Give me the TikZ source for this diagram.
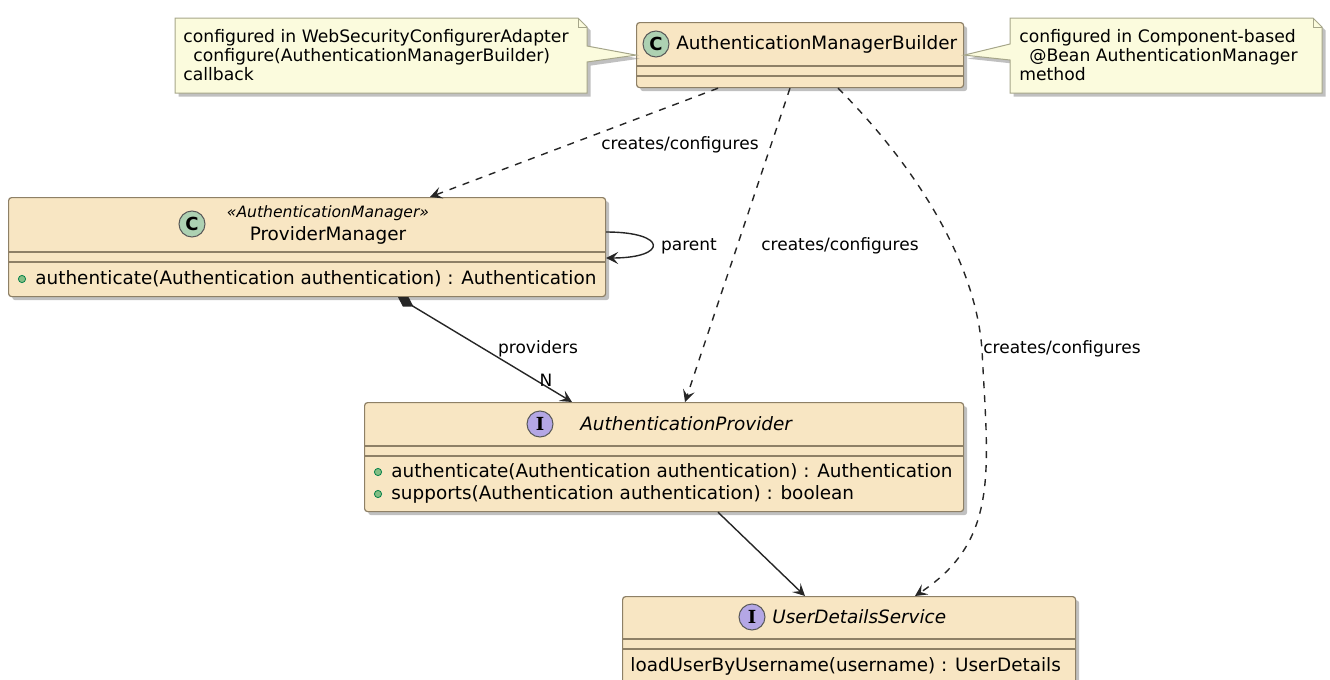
\documentclass[tikz,border=0pt]{standalone}
\usepackage{fontspec}
\setmainfont{DejaVu Sans}
\newfontfamily\spotfont{DejaVu Serif}
\usetikzlibrary{arrows.meta,shadows}

\definecolor{classfill}{HTML}{F8E6C3}
\definecolor{classline}{HTML}{8E8066}
\definecolor{notefill}{HTML}{FBFBDD}
\definecolor{noteline}{HTML}{A6A68A}
\definecolor{cspot}{HTML}{ADD1B2}
\definecolor{ispot}{HTML}{B4A7E5}
\definecolor{dotfill}{HTML}{84BE84}
\definecolor{dotline}{HTML}{038048}

\begin{document}
\begin{tikzpicture}[x=0.5pt, y=-0.5pt,
    classbox/.style = {draw=classline, fill=classfill, line width=0.6pt, rounded corners=1.5pt,
      anchor=north west, inner sep=0pt,
      drop shadow={shadow xshift=1.8pt, shadow yshift=-1.8pt, fill=black!55, opacity=.45}},
    compline/.style = {draw=classline, line width=0.6pt},
    spot/.style = {circle, draw=black!65, line width=0.5pt, minimum size=13pt, inner sep=0pt},
    mdot/.style = {circle, draw=dotline, fill=dotfill, line width=0.4pt, minimum size=3.6pt, inner sep=0pt},
    classname/.style = {inner sep=0pt, font=\fontsize{9.2}{11}\selectfont},
    member/.style = {inner sep=0pt, anchor=west, font=\fontsize{9.2}{11}\selectfont},
    notebox/.style = {draw=noteline, fill=notefill, line width=0.5pt,
      drop shadow={shadow xshift=1.8pt, shadow yshift=-1.8pt, fill=black!55, opacity=.45}},
    notetext/.style = {inner sep=0pt, anchor=west, align=left, font=\fontsize{8.6}{9.3}\selectfont},
    lbl/.style = {inner sep=0pt, font=\fontsize{8.5}{10}\selectfont},
    link/.style = {draw=black!85, line width=0.7pt, -{Stealth[length=6pt, width=6pt, inset=2.5pt]}},
    dep/.style = {link, dash pattern=on 3.5pt off 3.5pt}]

  \useasboundingbox (0,0) rectangle (1330,680);
  \clip (0,0) rectangle (1330,680);

  % classes
  \node[classbox, minimum width=163.5pt, minimum height=32.5pt] (amb) at (636,22) {};
  \node[classbox, minimum width=298.5pt, minimum height=49.5pt] (pm) at (8,197) {};
  \node[classbox, minimum width=299.5pt, minimum height=54.5pt] (ap) at (364,402) {};
  \node[classbox, minimum width=226.5pt, minimum height=50pt] (uds) at (622,596) {};

  \draw[compline] (636,66) -- (963,66) (636,76) -- (963,76);
  \draw[compline] (8,252) -- (605,252) (8,262) -- (605,262);
  \draw[compline] (364,446) -- (963,446) (364,456) -- (963,456);
  \draw[compline] (622,639) -- (1075,639) (622,649) -- (1075,649);

  \node[spot, fill=cspot] (ambspot) at (656,44) {\bfseries\fontsize{9}{9}\selectfont C};
  \node[classname, anchor=west] (ambname) at (676,44) {AuthenticationManagerBuilder};

  \node[spot, fill=cspot] (pmspot) at (192,224) {\bfseries\fontsize{9}{9}\selectfont C};
  \node[classname, font=\itshape\fontsize{7.8}{9}\selectfont] (pmstereo) at (328,213) {«AuthenticationManager»};
  \node[classname] (pmname) at (328,235) {ProviderManager};
  \node[mdot] (pmdot) at (22,279) {};
  \node[member] (pmauth) at (35,279) {authenticate(Authentication authentication) : Authentication};

  \node[spot, fill=ispot] (apspot) at (540,424) {\spotfont\bfseries\fontsize{9}{9}\selectfont I};
  \node[classname, anchor=west, font=\itshape\fontsize{9.2}{11}\selectfont] (apname) at (580,424) {AuthenticationProvider};
  \node[mdot] (apdot1) at (378,472) {};
  \node[member] (apauth) at (391,472) {authenticate(Authentication authentication) : Authentication};
  \node[mdot] (apdot2) at (378,494) {};
  \node[member] (apsupp) at (391,494) {supports(Authentication authentication) : boolean};

  \node[spot, fill=ispot] (udsspot) at (752,617) {\spotfont\bfseries\fontsize{9}{9}\selectfont I};
  \node[classname, anchor=west, font=\itshape\fontsize{9.2}{11}\selectfont] (udsname) at (772,617) {UserDetailsService};
  \node[member] (udsload) at (630,666) {loadUserByUsername(username) : UserDetails};

  % notes
  \filldraw[notebox] (175,18) -- (578,18) -- (587,27) -- (587,46) -- (amb.west) -- (587,62)
    -- (587,93) -- (175,93) -- cycle;
  \draw[noteline, line width=0.5pt] (578,18) -- (578,27) -- (587,27);
  \node[notetext] (lnote) at (183,55) {configured in WebSecurityConfigurerAdapter\\
    \hspace*{5pt}configure(AuthenticationManagerBuilder)\\callback};

  \filldraw[notebox] (1010,18) -- (1313,18) -- (1322,27) -- (1322,93) -- (1010,93) -- (1010,60)
    -- (amb.east) -- (1010,44) -- cycle;
  \draw[noteline, line width=0.5pt] (1313,18) -- (1313,27) -- (1322,27);
  \node[notetext] (rnote) at (1019,55) {configured in Component-based\\
    \hspace*{5pt}@Bean AuthenticationManager\\method};

  % relations
  \draw[dep] (718,0 |- amb.south) -- (430,0 |- pm.north);
  \node[lbl] (dep1) at (680,145) {creates/configures};
  \draw[dep] (790,0 |- amb.south) -- (685,0 |- ap.north);
  \node[lbl] (dep2) at (840,246) {creates/configures};
  \draw[dep] (838,0 |- amb.south) .. controls (900,150) and (975,250) .. (982,350)
    .. controls (988,470) and (1000,540) .. (915,0 |- uds.north);
  \node[lbl] (dep3) at (1062,349) {creates/configures};

  \draw[link] (pm.east |- 0,232) .. controls (668,232) and (668,258) .. (pm.east |- 0,258);
  \node[lbl] (parent) at (689,246) {parent};

  \draw[link, {Diamond[length=9pt, width=5.5pt]}-{Stealth[length=6pt, width=6pt, inset=2.5pt]}]
    (398,0 |- pm.south) -- (572,0 |- ap.north);
  \node[lbl] (prov) at (538,349) {providers};
  \node[lbl] (provn) at (546,380) {N};

  \draw[link] (718,0 |- ap.south) -- (805,0 |- uds.north);
\end{tikzpicture}
\end{document}
